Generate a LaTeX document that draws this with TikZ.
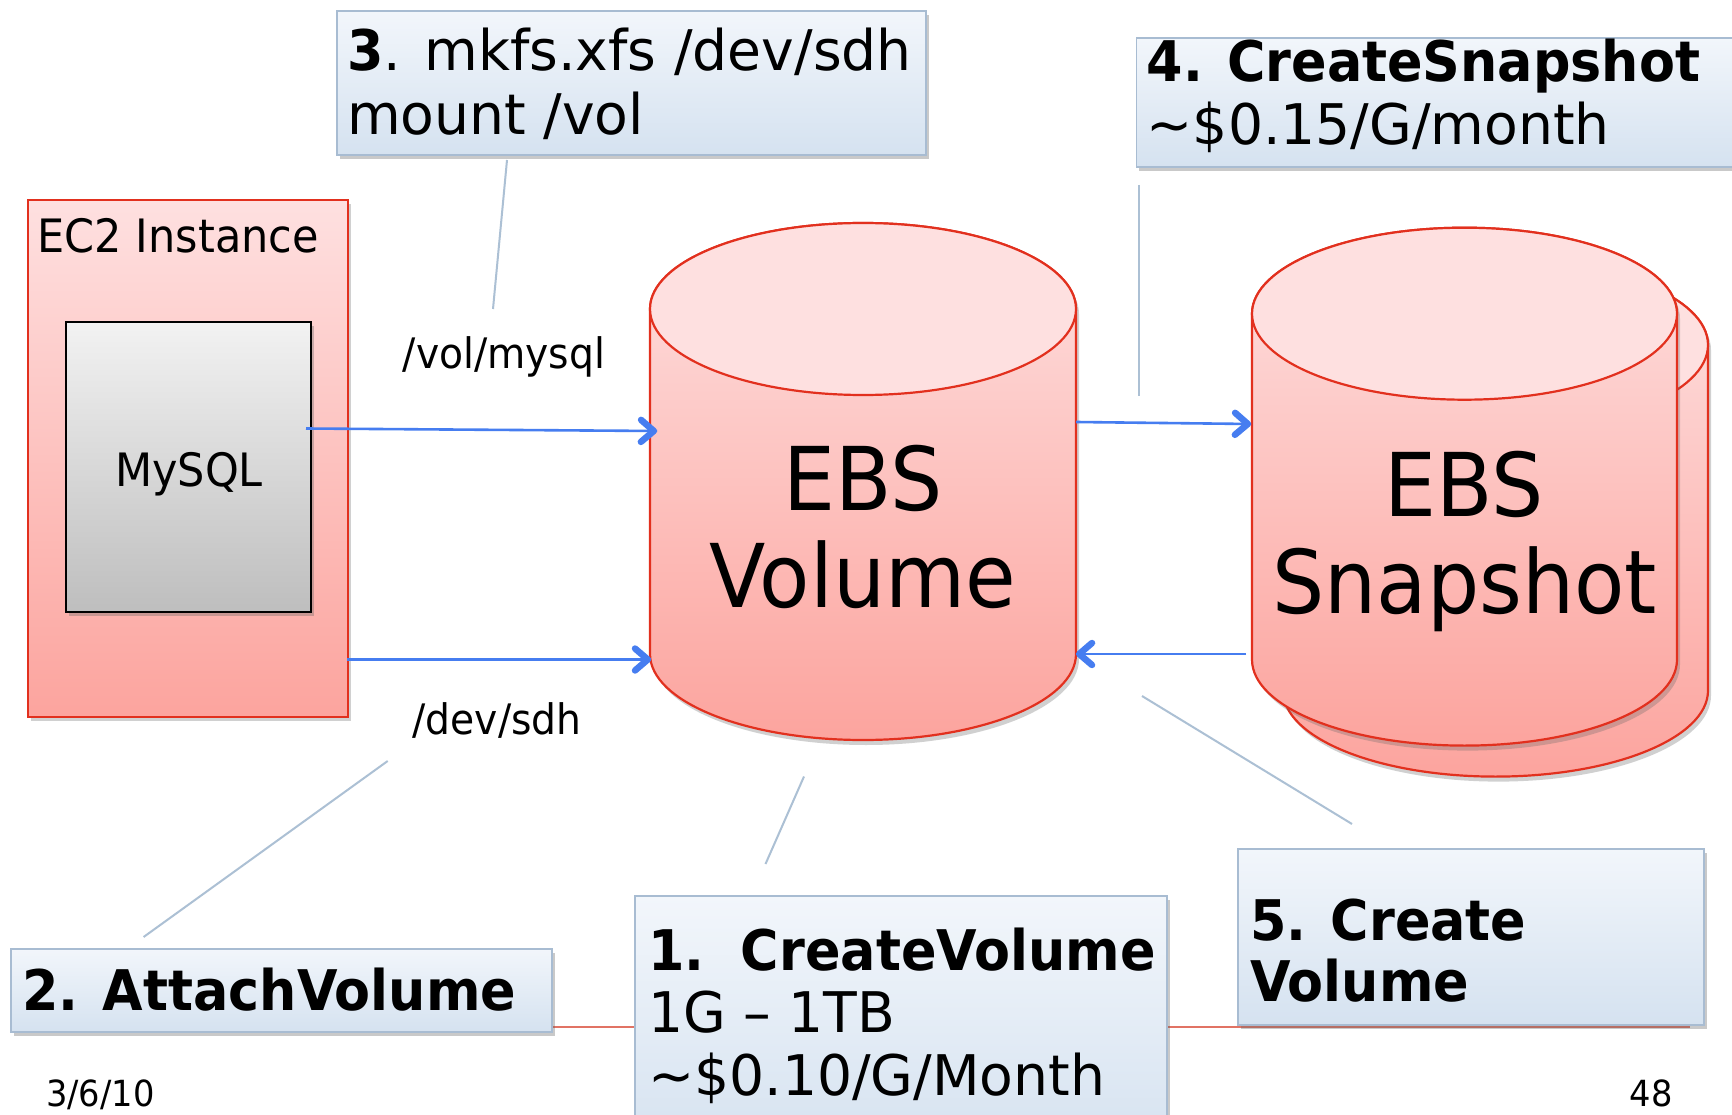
\documentclass[tikz,border=0pt]{standalone}
\usepackage{fontspec}
\setmainfont{DejaVu Sans}[FakeStretch=0.935]
\newfontfamily\boxfont{DejaVu Sans}[UprightFeatures={FakeStretch=0.985}, BoldFeatures={FakeStretch=0.935}]
\usetikzlibrary{arrows.meta,shadows,decorations.markings}
\definecolor{boxtop}{RGB}{242,246,251}
\definecolor{boxbot}{RGB}{213,226,240}
\definecolor{boxline}{RGB}{168,188,210}
\definecolor{redline}{RGB}{226,48,30}
\definecolor{pinktop}{RGB}{254,224,224}
\definecolor{pinkbot}{RGB}{252,164,158}
\definecolor{arrowblue}{RGB}{70,125,240}
\definecolor{callout}{RGB}{172,192,212}
\definecolor{salmon}{RGB}{225,115,100}
\definecolor{greytop}{RGB}{242,242,242}
\definecolor{greybot}{RGB}{190,190,190}
\tikzset{
  tipbox/.style={draw=boxline, line width=1.6pt, top color=boxtop, bottom color=boxbot,
    drop shadow={shadow xshift=3pt, shadow yshift=-4pt, opacity=0.35, fill=black!60},
    inner sep=0pt, anchor=north west},
  boxtext/.style={font=\boxfont\fontsize{56}{62}\selectfont, inner sep=0pt, anchor=base west},
  bigtext/.style={font=\fontsize{88}{97}\selectfont, inner sep=0pt, anchor=base},
  midtext/.style={font=\fontsize{46}{52}\selectfont, inner sep=0pt},
  pathtext/.style={font=\fontsize{42}{48}\selectfont, inner sep=0pt, anchor=base},
  foot/.style={font=\fontsize{36}{40}\selectfont, inner sep=0pt},
  arr/.style={draw=arrowblue, line width=2.6pt,
    postaction={decorate, decoration={markings, mark=at position 1 with {
      \draw[draw=arrowblue, line width=6.5pt, line cap=round, line join=round]
        (-16pt,11pt) -- (-3.2pt,0pt) -- (-16pt,-11pt);}}}},
  callline/.style={draw=callout, line width=2pt},
  cylbody/.style={draw=redline, line width=2.2pt, top color=pinktop, bottom color=pinkbot,
    drop shadow={shadow xshift=3pt, shadow yshift=-5pt, opacity=0.3, fill=black!60}},
  cyltop/.style={draw=redline, line width=2.2pt, fill=pinktop},
}
\begin{document}
\begin{tikzpicture}[x=1pt,y=1pt]
\clip (0,0) rectangle (1732,-1115);
\fill[white] (0,0) rectangle (1732,-1115);

% red horizontal rule
\coordinate (rl1) at (551,-1027);
\coordinate (rl2) at (1690,-1027);
\draw[draw=salmon, line width=2pt] (rl1) -- (rl2);

% EC2 instance
\node[draw=redline, line width=2pt, top color=pinktop, bottom color=pinkbot,
  drop shadow={shadow xshift=3pt, shadow yshift=-4pt, opacity=0.3, fill=black!60},
  inner sep=0pt, anchor=north west, minimum width=320pt, minimum height=517pt] (ec2) at (27,-199) {};
\node[midtext, anchor=base west] (ec2t) at (37.5,-253) {EC2 Instance};
\node[draw=black, line width=1.8pt, top color=greytop, bottom color=greybot,
  drop shadow={shadow xshift=3pt, shadow yshift=-4pt, opacity=0.35, fill=black!60},
  inner sep=0pt, anchor=north west, minimum width=245pt, minimum height=290pt] (mysql) at (65,-321) {};
\node[midtext, anchor=base] (mysqlt) at (189,-486) {MySQL};

% EBS volume cylinder
\path[cylbody] (650,-309) -- (650,-654) arc[start angle=180,end angle=360,x radius=213,y radius=86]
  -- (1076,-309) arc[start angle=0,end angle=180,x radius=213,y radius=86] -- cycle;
\path[cyltop] (863,-309) ellipse [x radius=213, y radius=86];
\node[bigtext] (ebs1) at (863,-510) {EBS};
\node[bigtext] (ebs2) at (863,-607) {Volume};

% EBS snapshot (back)
\path[cylbody] (1283,-345) -- (1283,-690.6) arc[start angle=180,end angle=360,x radius=212.5,y radius=86]
  -- (1708,-345) arc[start angle=0,end angle=180,x radius=212.5,y radius=86] -- cycle;
\path[cyltop] (1495.5,-345) ellipse [x radius=212.5, y radius=86];
% EBS snapshot (front)
\path[cylbody] (1252,-313.7) -- (1252,-659.6) arc[start angle=180,end angle=360,x radius=212.5,y radius=86]
  -- (1677,-313.7) arc[start angle=0,end angle=180,x radius=212.5,y radius=86] -- cycle;
\path[cyltop] (1464.5,-313.7) ellipse [x radius=212.5, y radius=86];
\node[bigtext] (snap1) at (1464.5,-516) {EBS};
\node[bigtext] (snap2) at (1464.5,-613) {Snapshot};

% path labels
\node[pathtext] (volmysql) at (504,-368) {/vol/mysql};
\node[pathtext] (devsdh) at (497,-734) {/dev/sdh};

% arrows
\coordinate (a1s) at (306,-428.5);
\coordinate (a1e) at (657,-431);
\coordinate (a2s) at (347,-659.5);
\coordinate (a2e) at (651,-659.5);
\coordinate (a3s) at (1076,-422);
\coordinate (a3e) at (1251,-424);
\coordinate (a4s) at (1246,-654);
\coordinate (a4e) at (1076,-654);
\draw[arr] (a1s) -- (a1e);
\draw[arr] (a2s) -- (a2e);
\draw[arr] (a3s) -- (a3e);
\draw[arr] (a4s) -- (a4e);

% callout lines
\coordinate (c3a) at (507,-160);
\coordinate (c3b) at (493,-309);
\coordinate (c4a) at (1139,-185);
\coordinate (c4b) at (1139,-396);
\coordinate (c2a) at (143.6,-937);
\coordinate (c2b) at (387.7,-761);
\coordinate (c1a) at (765.5,-864);
\coordinate (c1b) at (804,-776.5);
\coordinate (c5a) at (1352,-824);
\coordinate (c5b) at (1142,-696);
\draw[callline] (c3a) -- (c3b);
\draw[callline] (c4a) -- (c4b);
\draw[callline] (c2a) -- (c2b);
\draw[callline] (c1a) -- (c1b);
\draw[callline] (c5a) -- (c5b);

% step boxes
\node[tipbox, minimum width=589pt, minimum height=144pt] (b3) at (336,-10) {};
\node[boxtext] (t3a) at (347,-71) {\textbf{3}. mkfs.xfs /dev/sdh};
\node[boxtext] (t3b) at (347,-135) {mount /vol};

\node[tipbox, minimum width=650pt, minimum height=128.5pt] (b4) at (1135.5,-37.5) {};
\node[boxtext] (t4a) at (1146.5,-82) {\textbf{4. CreateSnapshot}};
\node[boxtext] (t4b) at (1146.5,-145) {\char"007E\$0.15/G/month};

\node[tipbox, minimum width=541pt, minimum height=83pt] (b2) at (10,-948) {};
\node[boxtext] (t2) at (22,-1010) {\textbf{2. AttachVolume}};

\node[tipbox, minimum width=532pt, minimum height=260pt] (b1) at (634,-895) {};
\node[boxtext] (t1a) at (648,-970) {\textbf{1.\ \ CreateVolume}};
\node[boxtext] (t1b) at (648,-1032) {1G – 1TB};
\node[boxtext] (t1c) at (648,-1095) {\char"007E\$0.10/G/Month};

\node[tipbox, minimum width=466pt, minimum height=176pt] (b5) at (1237,-848) {};
\node[boxtext] (t5a) at (1250,-940) {\textbf{5. Create}};
\node[boxtext] (t5b) at (1250,-1001) {\textbf{Volume}};

% footer
\node[foot, anchor=base west] (date) at (46,-1106) {3/6/10};
\node[foot, anchor=base] (page) at (1651,-1106) {48};
\end{tikzpicture}
\end{document}
